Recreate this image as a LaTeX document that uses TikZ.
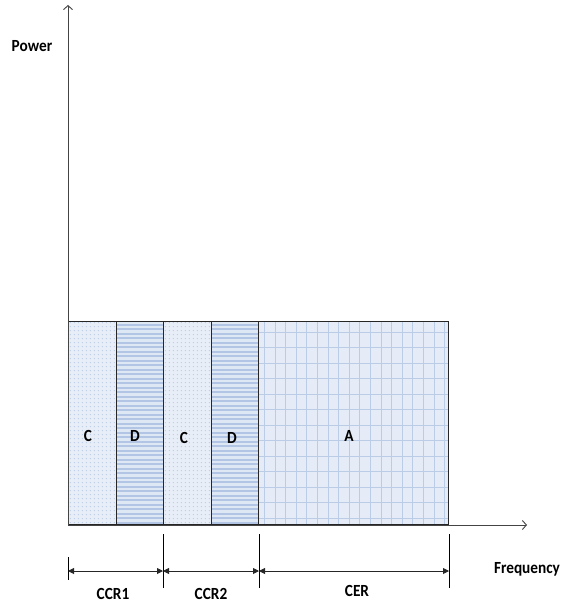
\documentclass[tikz,border=0pt]{standalone}
\usepackage{fontspec}
\setmainfont{Carlito}
\usetikzlibrary{arrows.meta}
\definecolor{cfill}{HTML}{E8EEF8}
\definecolor{cdot}{HTML}{BDCDE8}
\definecolor{dfill}{HTML}{DEE7F4}
\definecolor{dstripe}{HTML}{B2C5E4}
\definecolor{afill}{HTML}{E5ECF7}
\definecolor{agrid}{HTML}{BACCE6}
\definecolor{axisgray}{HTML}{444444}
\newcommand\sq[1]{\scalebox{0.9}[1]{#1}}
\begin{document}
\begin{tikzpicture}[x=1pt,y=-1pt,
  lbl/.style={font=\bfseries\fontsize{17}{19}\selectfont, inner sep=0pt},
  regionbox/.style={draw=black!85, line width=0.8pt, inner sep=0pt, anchor=south west, minimum height=203pt},
  cpat/.style={fill=cfill, path picture={
     \foreach \i in {0,...,12}{\foreach \j in {0,...,50}{
       \fill[cdot] ([shift={(2+\i*4,-2-\j*4)}]path picture bounding box.south west) circle (0.7pt);}}}},
  dpat/.style={fill=dfill, path picture={
     \foreach \j in {0,...,45}{
       \fill[dstripe] ([shift={(0,-1-\j*4.5)}]path picture bounding box.south west) rectangle ++(60,-2);}}},
  apat/.style={fill=afill, path picture={
     \foreach \i in {0,...,18}{
       \draw[agrid, line width=0.9pt] ([shift={(6+\i*10.6,0)}]path picture bounding box.south west) -- ++(0,-210);}
     \foreach \j in {0,...,12}{
       \draw[agrid, line width=0.9pt] ([shift={(0,-6.3-\j*15.5)}]path picture bounding box.south west) -- ++(200,0);}}},
  axis/.style={draw=axisgray, line width=0.9pt, -{Straight Barb[length=4pt,width=9pt]}},
  tickline/.style={draw=black, line width=1pt},
  dim/.style={draw=black!85, line width=0.9pt, {Triangle[length=6pt,width=6pt]}-{Triangle[length=6pt,width=6pt]}},
]
\useasboundingbox (0,0) rectangle (563,607);

% regions
\node[regionbox, cpat, minimum width=48pt]  (c1) at (68,525) {};
\node[regionbox, dpat, minimum width=47pt]  (d1) at (116,525) {};
\node[regionbox, cpat, minimum width=48pt]  (c2) at (163,525) {};
\node[regionbox, dpat, minimum width=47pt]  (d2) at (211,525) {};
\node[regionbox, apat, minimum width=190pt] (a)  at (258,525) {};

% region labels
\node[lbl] (lc1) at (88,436) {\sq{C}};
\node[lbl] (ld1) at (135,436) {\sq{D}};
\node[lbl] (lc2) at (184,438) {\sq{C}};
\node[lbl] (ld2) at (232,438) {\sq{D}};
\node[lbl] (la)  at (349,436) {\sq{A}};

% axes
\coordinate (O) at (68,525);
\coordinate (ytip) at (68,5);
\coordinate (xtip) at (527,525);
\draw[axis] (O) -- (ytip);
\draw[axis] (O) -- (xtip);
\node[lbl] (power) at (32,46) {\sq{Power}};
\node[lbl] (freq) at (527,569) {\sq{Frequency}};

% dimension ticks
\coordinate (t0a) at (68,557);  \coordinate (t0b) at (68,580);
\coordinate (t1a) at (163,534); \coordinate (t1b) at (163,588);
\coordinate (t2a) at (259,534); \coordinate (t2b) at (259,588);
\coordinate (t3a) at (449,534); \coordinate (t3b) at (449,588);
\draw[tickline] (t0a) -- (t0b);
\draw[tickline] (t1a) -- (t1b);
\draw[tickline] (t2a) -- (t2b);
\draw[tickline] (t3a) -- (t3b);

\coordinate (m0) at (68,571);
\coordinate (m1) at (163,571);
\coordinate (m2) at (259,571);
\coordinate (m3) at (449,571);
\draw[dim] (m0) -- (m1);
\draw[dim] (m1) -- (m2);
\draw[dim] (m2) -- (m3);

\node[lbl] (ccr1) at (113,594) {\sq{CCR1}};
\node[lbl] (ccr2) at (211,594) {\sq{CCR2}};
\node[lbl] (cer)  at (357,591) {\sq{CER}};
\end{tikzpicture}
\end{document}
